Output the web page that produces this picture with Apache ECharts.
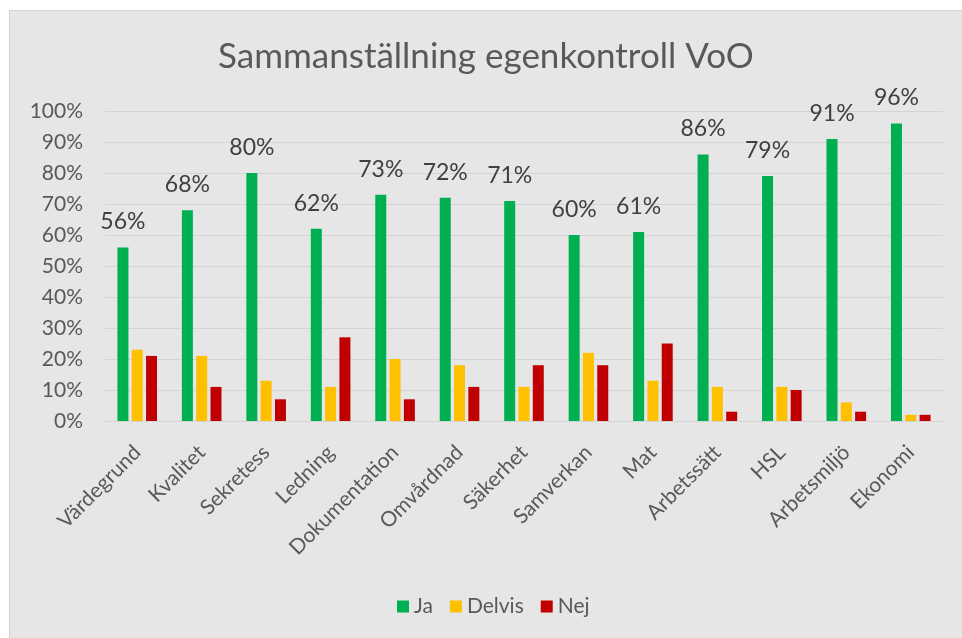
<!DOCTYPE html>
<html>
<head>
<meta charset="utf-8">
<script src="https://cdn.jsdelivr.net/npm/echarts@6/dist/echarts.min.js"></script>
<style>
    html, body { margin: 0; padding: 0; background: #ffffff; }
    #chart {
        position: absolute;
        left: 9px;
        top: 10px;
        width: 952px;
        height: 627px;
        background: #e6e6e6;
        border-top: 1px solid #d4d4d4;
        border-left: 1px solid #d4d4d4;
    }
</style>
</head>
<body>
<div id="chart"></div>
<script>
var categories = ['Värdegrund', 'Kvalitet', 'Sekretess', 'Ledning', 'Dokumentation', 'Omvårdnad',
    'Säkerhet', 'Samverkan', 'Mat', 'Arbetssätt', 'HSL', 'Arbetsmiljö', 'Ekonomi'];
var ja = [56, 68, 80, 62, 73, 72, 71, 60, 61, 86, 79, 91, 96];
var delvis = [23, 21, 13, 11, 20, 18, 11, 22, 13, 11, 11, 6, 2];
var nej = [21, 11, 7, 27, 7, 11, 18, 18, 25, 3, 10, 3, 2];

var font = 'Lato';
var textColor = '#595959';

var myChart = echarts.init(document.getElementById('chart'));
var option = {
    backgroundColor: 'transparent',
    textStyle: { fontFamily: font },
    title: {
        text: 'Sammanställning egenkontroll VoO',
        left: 'center',
        top: 23,
        textStyle: { fontFamily: font, fontSize: 35, fontWeight: 'normal', color: textColor }
    },
    legend: {
        top: 580,
        left: 382,
        itemWidth: 12,
        itemHeight: 12,
        itemGap: 17,
        icon: 'rect',
        textStyle: { fontFamily: font, fontSize: 21, color: textColor },
        data: ['Ja', 'Delvis', 'Nej']
    },
    grid: { left: 95, right: 19, top: 100, bottom: 217, containLabel: false },
    xAxis: {
        type: 'category',
        data: categories,
        axisLine: { show: true, lineStyle: { color: '#d4d4d4', width: 1 } },
        axisTick: { show: false },
        axisLabel: {
            rotate: 45,
            interval: 0,
            margin: 28,
            fontFamily: font,
            fontSize: 21,
            color: textColor
        }
    },
    yAxis: {
        type: 'value',
        min: 0,
        max: 100,
        interval: 10,
        axisLine: { show: false },
        axisTick: { show: false },
        splitLine: { lineStyle: { color: '#d4d4d4', width: 1 } },
        axisLabel: {
            formatter: '{value}%',
            margin: 22,
            fontFamily: font,
            fontSize: 21,
            color: textColor
        }
    },
    series: [
        {
            name: 'Ja',
            type: 'bar',
            data: ja,
            barWidth: 11,
            barGap: '30%',
            itemStyle: { color: '#00b050' },
            label: {
                show: true,
                position: 'top',
                distance: 14,
                formatter: '{c}%',
                fontFamily: font,
                fontSize: 23,
                color: '#404040'
            }
        },
        {
            name: 'Delvis',
            type: 'bar',
            data: delvis,
            barWidth: 11,
            itemStyle: { color: '#ffc000' }
        },
        {
            name: 'Nej',
            type: 'bar',
            data: nej,
            barWidth: 11,
            itemStyle: { color: '#c00000' }
        }
    ]
};
myChart.setOption(option);
</script>
</body>
</html>
